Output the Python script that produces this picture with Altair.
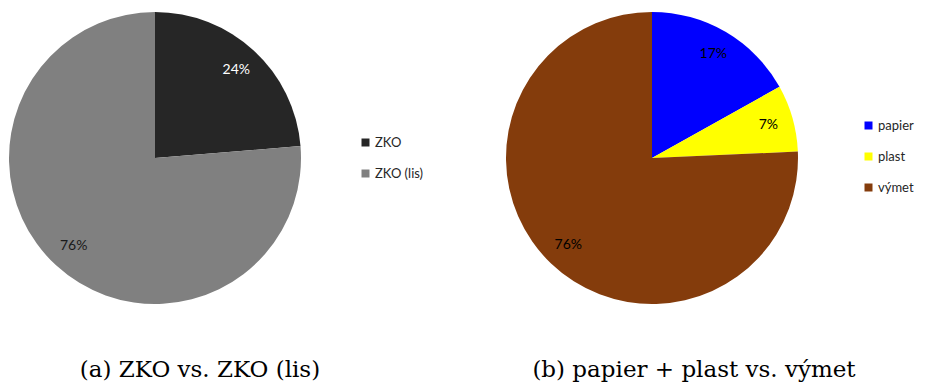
import altair as alt
import pandas as pd

# ---- data ----
cats_a = ["ZKO", "ZKO (lis)"]
vals_a = [23.7, 76.3]
labels_a = ["24%", "76%"]
colors_a = ["#262626", "#808080"]

cats_b = ["papier", "plast", "výmet"]
vals_b = [16.9, 7.4, 75.7]
labels_b = ["17%", "7%", "76%"]
colors_b = ["#0000FF", "#FFFF00", "#843C0C"]

caption_a = "(a) ZKO vs. ZKO (lis)"
caption_b = "(b) papier + plast vs. výmet"

df_a = pd.DataFrame({"cat": cats_a, "val": vals_a, "lab": labels_a, "idx": range(len(cats_a))})
df_b = pd.DataFrame({"cat": cats_b, "val": vals_b, "lab": labels_b, "idx": range(len(cats_b))})

LABEL_FONT = "Lato"
R = 146
CXa, CYa = 155, 158
CXb, CYb = 652, 158


def pie(df, cats, colors, cx, cy, lx, ly):
    base = alt.Chart(df)
    arcs = base.mark_arc(radius=R, stroke=None).encode(
        theta=alt.Theta("val:Q", stack=True),
        order=alt.Order("idx:Q"),
        color=alt.Color(
            "cat:N",
            scale=alt.Scale(domain=cats, range=colors),
            legend=alt.Legend(
                title=None,
                orient="none",
                legendX=lx,
                legendY=ly,
                symbolType="square",
                symbolSize=64,
                symbolStrokeWidth=0,
                labelFont=LABEL_FONT,
                labelFontSize=13,
                labelColor="#262626",
                labelOffset=3,
                rowPadding=17,
                padding=0,
            ),
        ),
        x=alt.value(cx),
        y=alt.value(cy),
    )
    return arcs


left_arcs = pie(df_a, cats_a, colors_a, CXa, CYa, 359, 136)
right_arcs = pie(df_b, cats_b, colors_b, CXb, CYb, 862, 119)

left_text = alt.Chart(df_a).mark_text(
    radius=120, font=LABEL_FONT, fontSize=14, align="center", baseline="middle"
).encode(
    theta=alt.Theta("val:Q", stack=True),
    order=alt.Order("idx:Q"),
    text="lab:N",
    fill=alt.condition(alt.datum.cat == "ZKO", alt.value("white"), alt.value("#1a1a1a")),
    x=alt.value(CXa),
    y=alt.value(CYa),
)

right_text = alt.Chart(df_b).mark_text(
    radius=121, font=LABEL_FONT, fontSize=14, align="center", baseline="middle", color="#000000"
).encode(
    theta=alt.Theta("val:Q", stack=True),
    order=alt.Order("idx:Q"),
    text="lab:N",
    x=alt.value(CXb),
    y=alt.value(CYb),
)

cap_df = pd.DataFrame({"t": [caption_a, caption_b], "k": ["a", "b"]})
cap_style = dict(font="DejaVu Serif", fontSize=23, align="center", baseline="alphabetic", color="#000000")
cap_a = alt.Chart(cap_df).transform_filter(alt.datum.k == "a").mark_text(**cap_style).encode(
    text="t:N", x=alt.value(200), y=alt.value(377)
)
cap_b = alt.Chart(cap_df).transform_filter(alt.datum.k == "b").mark_text(**cap_style).encode(
    text="t:N", x=alt.value(694), y=alt.value(377)
)

chart = alt.layer(left_arcs, left_text, right_arcs, right_text, cap_a, cap_b).resolve_scale(
    color="independent"
).properties(
    width=925, height=385, padding=0, autosize=alt.AutoSizeParams(type="none")
).configure_view(stroke=None)

chart.save("out.html", embed_options={"renderer": "svg", "actions": False})
